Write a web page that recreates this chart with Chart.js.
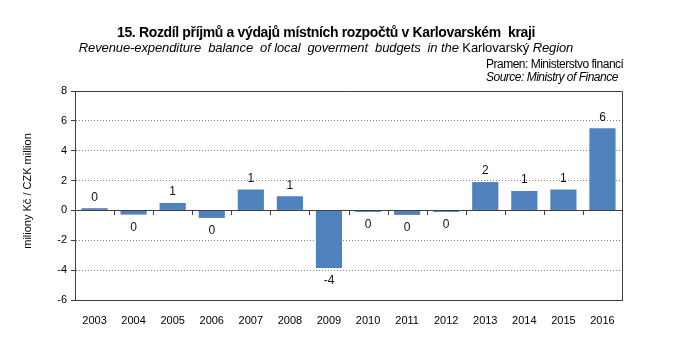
<!DOCTYPE html>
<html>
<head>
<meta charset="utf-8">
<script src="https://cdn.jsdelivr.net/npm/chart.js@4/dist/chart.umd.min.js"></script>
<style>
  html, body { margin: 0; padding: 0; background: #fff; }
  #wrap { position: relative; width: 682px; height: 362px; font-family: "Liberation Sans", Arial, sans-serif; }
  #graf { position: absolute; left: 0; top: 0; }
  .txt { position: absolute; white-space: nowrap; color: #000; }
  #titulo { left: 0; width: 652px; top: 24px; text-align: center; font-weight: bold; font-size: 14px; letter-spacing: -0.35px; }
  #subtitulo { left: 0; width: 652px; top: 40px; text-align: center; font-style: italic; font-size: 13px; letter-spacing: -0.1px; }
  #pramen { left: 486px; top: 57px; font-size: 12px; letter-spacing: -0.5px; }
  #source { left: 486px; top: 70px; font-size: 12px; font-style: italic; letter-spacing: -0.5px; }
</style>
</head>
<body>
<div id="wrap">
  <canvas id="graf" width="682" height="362"></canvas>
  <div class="txt" id="titulo">15. Rozdíl příjmů a výdajů místních rozpočtů v Karlovarském&nbsp; kraji</div>
  <div class="txt" id="subtitulo">Revenue-expenditure&nbsp; balance&nbsp; of local&nbsp; goverment&nbsp; budgets&nbsp; in the <span style="font-style:normal">Karlovarský</span> Region</div>
  <div class="txt" id="pramen">Pramen: Ministerstvo financí</div>
  <div class="txt" id="source">Source: Ministry of Finance</div>
</div>
<script>
// ---- data (mil. Kč) ----
const roky = ["2003","2004","2005","2006","2007","2008","2009","2010","2011","2012","2013","2014","2015","2016"];
const saldo = [0.15, -0.28, 0.5, -0.5, 1.4, 0.95, -3.85, -0.1, -0.3, -0.1, 1.9, 1.3, 1.4, 5.5];
const popisky = ["0","0","1","0","1","1","-4","0","0","0","2","1","1","6"];
const osaY = { min: -6, max: 8, krok: 2 };
const nazevOsy = "miliony Kč / CZK million";

const FONT = "'Liberation Sans', Arial, sans-serif";

// ramecek, nulova cara s carkami a popisky hodnot
const extras = {
  id: "extras",
  afterDatasetsDraw(chart) {
    const { ctx, chartArea: a, scales } = chart;
    const y0 = scales.y.getPixelForValue(0);
    ctx.save();
    ctx.strokeStyle = "#404040";
    ctx.lineWidth = 1;
    ctx.setLineDash([]);
    // pravy a horni okraj
    ctx.beginPath();
    ctx.moveTo(a.left, a.top + 0.5);
    ctx.lineTo(a.right + 0.5, a.top + 0.5);
    ctx.lineTo(a.right + 0.5, a.bottom);
    ctx.stroke();
    // nulova cara
    ctx.beginPath();
    ctx.moveTo(a.left, Math.round(y0) + 0.5);
    ctx.lineTo(a.right, Math.round(y0) + 0.5);
    ctx.stroke();
    // carky mezi kategoriemi
    ctx.beginPath();
    for (let i = 1; i < roky.length; i++) {
      const x = Math.round((scales.x.getPixelForValue(i - 1) + scales.x.getPixelForValue(i)) / 2) + 0.5;
      ctx.moveTo(x, Math.round(y0));
      ctx.lineTo(x, Math.round(y0) + 5);
    }
    ctx.stroke();

    // popisky hodnot
    ctx.fillStyle = "#111";
    ctx.font = "12px " + FONT;
    ctx.textAlign = "center";
    ctx.textBaseline = "middle";
    chart.getDatasetMeta(0).data.forEach((bar, i) => {
      const v = saldo[i];
      const y = v >= 0 ? bar.y - 11 : bar.y + 13;
      ctx.fillText(popisky[i], bar.x, y);
    });

    // nazev osy Y
    ctx.translate(28, 191);
    ctx.rotate(-Math.PI / 2);
    ctx.font = "11px " + FONT;
    ctx.fillStyle = "#000";
    ctx.fillText(nazevOsy, 0, 0);
    ctx.restore();
  }
};

new Chart(document.getElementById("graf"), {
  type: "bar",
  data: {
    labels: roky,
    datasets: [{
      data: saldo,
      backgroundColor: "#4F81BD",
      borderWidth: 0,
      categoryPercentage: 1,
      barPercentage: 0.67
    }]
  },
  options: {
    responsive: false,
    animation: false,
    layout: { padding: { top: 91, right: 60, left: 0, bottom: 0 } },
    plugins: { legend: { display: false }, tooltip: { enabled: false } },
    scales: {
      x: {
        grid: { display: false },
        border: { display: true, color: "#404040", width: 1 },
        ticks: { color: "#000", font: { family: FONT, size: 11 }, padding: 6, maxRotation: 0 },
        afterFit: s => { s.height = 62; }
      },
      y: {
        min: osaY.min,
        max: osaY.max,
        ticks: { stepSize: osaY.krok, color: "#000", font: { family: FONT, size: 11 }, padding: 4 },
        grid: {
          color: "#808080",
          tickColor: "#404040",
          tickLength: 4,
          lineWidth: 1
        },
        border: {
          display: true,
          color: "#404040",
          width: 1,
          dash: c => (c.tick && c.tick.value !== 0 && c.tick.value !== osaY.max) ? [1, 2] : []
        },
        afterFit: s => { s.width = 75; }
      }
    }
  },
  plugins: [extras]
});
</script>
</body>
</html>
